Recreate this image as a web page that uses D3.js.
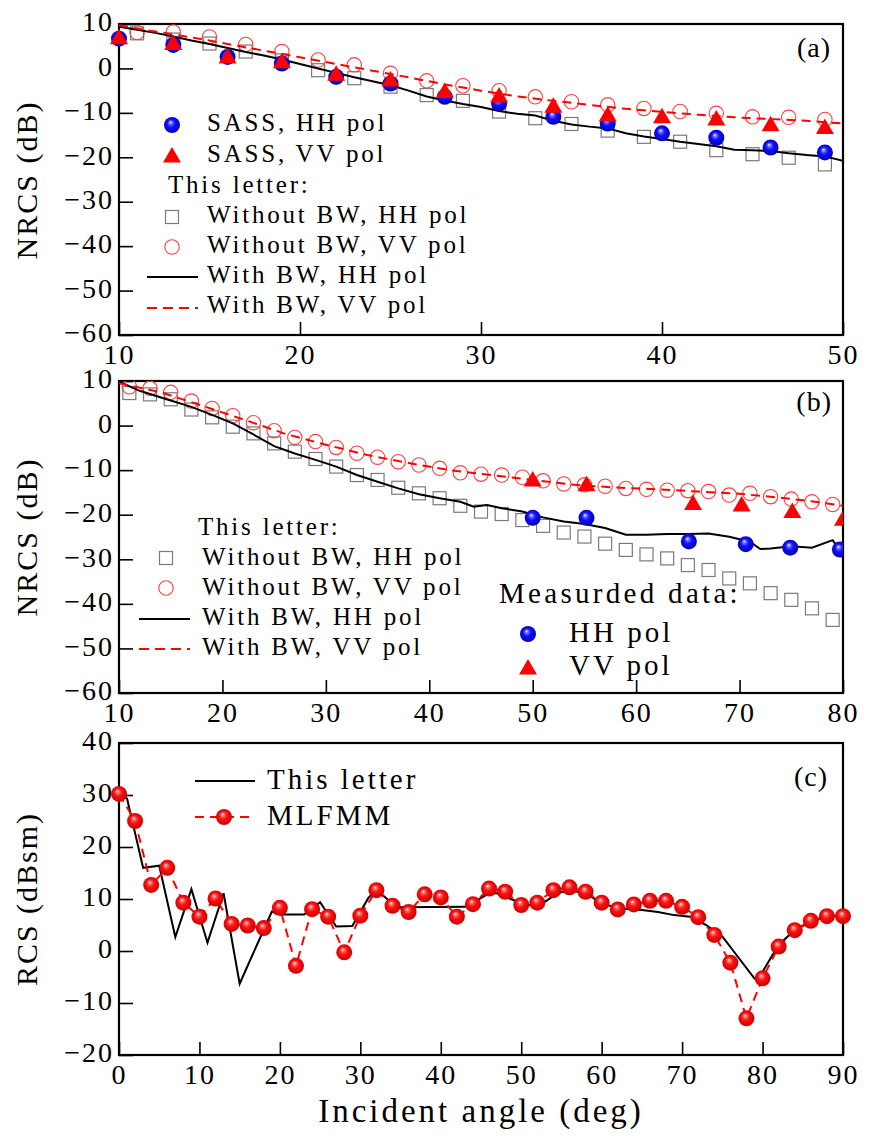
<!DOCTYPE html>
<html><head><meta charset="utf-8">
<script src="https://cdn.jsdelivr.net/npm/d3@7"></script>
<style>
body{margin:0;background:#fff}
</style></head><body>
<svg id="chart" width="871" height="1138"></svg>
<script>
// ---------- Panel (a) data ----------
const aSassX  = [10,13,16,19,22,25,28,31,34,37,40,43,46,49];
const aSassHH = [6.7,5.3,2.6,1.1,-1.9,-3.4,-6.4,-7.9,-10.9,-12.4,-14.6,-15.6,-17.8,-18.9];
const aSassVV = [6.9,5.6,2.6,1.5,-1.3,-2.6,-5.2,-6.2,-8.5,-10.5,-10.9,-11.4,-12.7,-13.3];
const aNoBwX  = [11,13,15,17,19,21,23,25,27,29,31,33,35,37,39,41,43,45,47,49];
const aNoBwHH = [7.9,6.5,5.6,3.8,1.8,-0.4,-2.2,-4.1,-6.0,-7.3,-9.7,-11.2,-12.5,-14.0,-15.4,-16.5,-18.4,-19.3,-20.1,-21.6];
const aNoBwVV = [8.1,8.2,7.1,5.4,3.8,1.9,0.8,-1.1,-2.8,-3.9,-5.0,-6.4,-7.5,-8.2,-9.0,-9.7,-10.1,-10.9,-11.0,-11.5];
const aBwHHX  = [10,11,12,13,14,15,16,17,18,19,20,21,22,23,24,25,26,27,28,29,30,31,32,33,34,35,36,37,38,39,40,41,42,43,44,45,46,47,48,49,50];
const aBwHH   = [9.4,8.7,8.0,7.2,6.3,5.5,4.6,3.7,2.9,2.0,1.0,0.0,-1.0,-2.0,-2.9,-3.8,-5.0,-6.3,-7.2,-8.0,-8.7,-9.6,-10.2,-10.6,-11.8,-12.6,-13.1,-13.5,-14.6,-15.3,-15.9,-16.5,-17.0,-17.5,-18.3,-18.4,-18.6,-19.1,-19.5,-19.8,-20.8];
const aBwVVX  = [10,12,14,16,18,20,22,24,26,28,30,32,34,36,38,40,42,44,46,48,50];
const aBwVV   = [9.7,8.3,7.0,5.5,4.0,2.5,1.0,-0.5,-2.0,-3.6,-5.0,-6.3,-7.3,-8.2,-9.1,-9.8,-10.4,-11.0,-11.4,-11.8,-12.4];

// ---------- Panel (b) data ----------
const bNoBwX  = [11,13,15,17,19,21,23,25,27,29,31,33,35,37,39,41,43,45,47,49,51,53,55,57,59,61,63,65,67,69,71,73,75,77,79];
const bNoBwHH = [7.3,7.0,5.9,3.6,1.85,-0.25,-1.75,-4.0,-5.85,-7.5,-9.2,-11.1,-12.2,-13.95,-15.2,-16.3,-18.0,-19.3,-19.85,-21.2,-22.5,-24.0,-24.9,-26.5,-27.9,-28.9,-29.8,-31.3,-32.4,-34.3,-35.4,-37.6,-39.1,-41.0,-43.6];
const bNoBwVV = [8.7,8.35,7.45,5.5,3.85,2.2,0.65,-1.15,-2.65,-3.6,-4.9,-6.2,-7.1,-8.1,-8.85,-9.6,-10.6,-10.9,-11.1,-11.6,-12.4,-13.1,-13.3,-13.6,-14.1,-14.3,-14.5,-14.6,-14.8,-15.6,-15.2,-15.95,-16.5,-17.1,-17.7];
const bBwHHX  = [10,12,14.6,17,19,21,23,25,27,29,31,33,35,37,39,41,43,44.3,45.6,47,49,51,53,55,57,59,61,63,65,67,69,71,72,73,75,77,79,79.4,80];
const bBwHH   = [9.85,7.8,5.9,4.2,2.4,0.5,-2.0,-4.6,-6.25,-7.7,-9.2,-11.1,-12.6,-14.1,-15.4,-16.3,-17.1,-18.2,-17.8,-18.55,-19.3,-20.6,-21.5,-22.1,-23.0,-24.5,-24.5,-24.3,-24.3,-24.2,-24.95,-26.05,-27.7,-27.6,-27.1,-27.4,-25.7,-27.0,-27.5];
const bBwVVX  = [10,14,18,22,26,30,34,38,42,46,50,54,58,62,66,70,74,78,80];
const bBwVV   = [9.5,7.5,4.5,1.4,-1.8,-4.3,-6.6,-8.4,-10.0,-11.1,-12.2,-13.3,-13.9,-14.3,-14.8,-15.3,-16.2,-17.3,-18.0];
const bMeasHHX = [50,55.2,65.1,70.6,74.9,79.7];
const bMeasHH  = [-20.7,-20.7,-26.0,-26.6,-27.4,-27.8];
const bMeasVVX = [50,55.2,65.5,70.2,75.1,80];
const bMeasVV  = [-12.2,-13.3,-17.5,-17.8,-19.3,-21.0];

// ---------- Panel (c) data ----------
const cMlfmmX = [0,2,4,6,8,10,12,14,16,18,20,22,24,26,28,30,32,34,36,38,40,42,44,46,48,50,52,54,56,58,60,62,64,66,68,70,72,74,76,78,80,82,84,86,88,90];
const cMlfmm  = [30.2,25.0,12.7,16.0,9.3,6.6,10.1,5.2,4.9,4.4,8.3,-2.85,8.05,6.6,-0.25,6.8,11.7,8.7,7.5,10.9,10.3,6.6,9.0,12.0,11.4,8.85,9.3,11.7,12.25,11.4,9.3,8.0,8.95,9.65,9.65,8.5,6.5,3.1,-2.25,-12.95,-5.25,0.85,4.0,5.8,6.7,6.7];
const cLetterX = [0,1,3,5,7,9,11,13,15,19,20,23,25,27,29,31,32,34,35,43,44,46,47,49,51,53,54.5,56,58,60,62,65,67,69,71,73,75,79,80,82,84,86,88,90];
const cLetter  = [30.5,29.3,16.0,16.4,2.7,11.9,1.6,11.1,-6.3,7.6,7.0,7.0,9.4,4.7,4.8,10.2,11.8,9.1,8.4,8.5,9.3,11.1,11.1,9.8,8.8,9.5,11.1,11.7,11.1,9.2,8.2,7.9,7.5,6.9,6.6,5.0,2.8,-5.3,-4.0,1.2,4.0,5.6,6.6,6.9];

// ---------- Tick values ----------
const nrcsTicks = [10,0,-10,-20,-30,-40,-50,-60];
const aXTicks = [10,20,30,40,50];
const bXTicks = [10,20,30,40,50,60,70,80];
const cXTicks = [0,10,20,30,40,50,60,70,80,90];
const cYTicks = [40,30,20,10,0,-10,-20];

const FONT = "Liberation Serif";
const svg = d3.select("#chart");
const defs = svg.append("defs");
function grad(id, base, dark){
  const g = defs.append("radialGradient").attr("id", id)
    .attr("cx","50%").attr("cy","50%").attr("r","55%").attr("fx","40%").attr("fy","32%");
  g.append("stop").attr("offset","0%").attr("stop-color","#ffffff");
  g.append("stop").attr("offset","18%").attr("stop-color",d3.interpolateRgb("#ffffff",base)(0.6));
  g.append("stop").attr("offset","45%").attr("stop-color",base);
  g.append("stop").attr("offset","100%").attr("stop-color",dark);
}
grad("gBlue","#1010ff","#0000a8");
grad("gRed","#ff1010","#c00000");

const LEFT = 119, RIGHT = 843;
const fmt = d3.format("d");

function panel(y0, y1, xDom, yDom, xTicks, yTicks){
  const x = d3.scaleLinear().domain(xDom).range([LEFT, RIGHT]);
  const y = d3.scaleLinear().domain(yDom).range([y1, y0]);
  const g = svg.append("g");
  const xMinor = d3.range(xDom[0], xDom[1] + 0.001, 2).filter(v => !xTicks.includes(v));
  const yMinor = d3.range(yDom[0], yDom[1] + 0.001, 2).filter(v => !yTicks.includes(v));
  const ax = g.append("g").attr("transform", `translate(0,${y1})`);
  ax.call(d3.axisBottom(x).tickValues(xMinor).tickSize(-7).tickSizeOuter(0).tickFormat(""));
  ax.call(d3.axisBottom(x).tickValues(xTicks).tickSize(-13).tickSizeOuter(0).tickPadding(9).tickFormat(fmt));
  const ay = g.append("g").attr("transform", `translate(${LEFT},0)`);
  ay.call(d3.axisLeft(y).tickValues(yMinor).tickSize(-7).tickSizeOuter(0).tickFormat(""));
  ay.call(d3.axisLeft(y).tickValues(yTicks).tickSize(-14).tickSizeOuter(0).tickPadding(5).tickFormat(fmt));
  ay.selectAll(".tick text").attr("dy","0.24em");
  g.selectAll("g").attr("font-family", FONT);
  g.selectAll(".tick line").attr("stroke","#000").attr("stroke-width",1.6);
  g.selectAll(".domain").remove();
  g.selectAll(".tick text").attr("font-size",28).attr("font-family",FONT).attr("letter-spacing","2px").attr("fill","#000");
  g.append("rect").attr("x",LEFT).attr("y",y0).attr("width",RIGHT-LEFT).attr("height",y1-y0)
    .attr("fill","none").attr("stroke","#000").attr("stroke-width",2.2);
  const clipId = "clip" + y0;
  defs.append("clipPath").attr("id", clipId).append("rect")
    .attr("x",LEFT).attr("y",y0).attr("width",RIGHT-LEFT).attr("height",y1-y0);
  const plot = svg.append("g").attr("clip-path",`url(#${clipId})`);
  return {x, y, g, plot};
}

function sphere(g, cx, cy, r, id){
  g.append("circle").attr("cx",cx).attr("cy",cy).attr("r",r).attr("fill",`url(#${id})`);
}
function tri(g, cx, cy){
  g.append("path").attr("d",`M${cx},${cy-9}L${cx+9},${cy+6.5}L${cx-9},${cy+6.5}Z`).attr("fill","#ff0000");
}
function sq(g, cx, cy){
  g.append("rect").attr("x",cx-6.5).attr("y",cy-6.5).attr("width",13).attr("height",13)
    .attr("fill","none").attr("stroke","#7a7a7a").attr("stroke-width",1.2);
}
function circ(g, cx, cy){
  g.append("circle").attr("cx",cx).attr("cy",cy).attr("r",7.2)
    .attr("fill","none").attr("stroke","#ff4040").attr("stroke-width",1.1);
}
function line(g, x, y, xs, ys, dashed){
  const l = d3.line().x((d,i)=>x(xs[i])).y((d,i)=>y(ys[i]));
  g.append("path").attr("d", l(ys)).attr("fill","none")
    .attr("stroke", dashed ? "#ff0000" : "#000").attr("stroke-width", 2)
    .attr("stroke-dasharray", dashed ? "9,6" : null);
}
function txt(x, y, s, size, anchor, ls){
  return svg.append("text").attr("x",x).attr("y",y).attr("font-size",size).attr("font-family",FONT)
    .attr("text-anchor",anchor||"start").attr("letter-spacing",(ls==null?2.8:ls)+"px").text(s);
}

// ================= Panel (a) =================
const A = panel(24, 335, [10,50], [-60,10], aXTicks, nrcsTicks);
aNoBwX.forEach((v,i)=>sq(A.plot, A.x(v), A.y(aNoBwHH[i])));
aNoBwX.forEach((v,i)=>circ(A.plot, A.x(v), A.y(aNoBwVV[i])));
line(A.plot, A.x, A.y, aBwHHX, aBwHH, false);
line(A.plot, A.x, A.y, aBwVVX, aBwVV, true);
aSassX.forEach((v,i)=>sphere(svg, A.x(v), A.y(aSassHH[i]), 8, "gBlue"));
aSassX.forEach((v,i)=>tri(svg, A.x(v), A.y(aSassVV[i])));
// legend (a)
sphere(svg,172,125,8,"gBlue"); txt(207,131,"SASS, HH pol",25);
tri(svg,172,156); txt(207,162,"SASS, VV pol",25);
txt(168,193,"This letter:",25);
sq(svg,172,217); txt(207,223,"Without BW, HH pol",25);
circ(svg,172,247); txt(207,253,"Without BW, VV pol",25);
svg.append("line").attr("x1",147).attr("x2",198).attr("y1",277).attr("y2",277).attr("stroke","#000").attr("stroke-width",2);
txt(207,283,"With BW, HH pol",25);
svg.append("line").attr("x1",147).attr("x2",198).attr("y1",308).attr("y2",308).attr("stroke","#f00").attr("stroke-width",2).attr("stroke-dasharray","10,6");
txt(207,313,"With BW, VV pol",25);
txt(831,57,"(a)",28,"end",1);

// ================= Panel (b) =================
const B = panel(381, 693, [10,80], [-60,10], bXTicks, nrcsTicks);
bNoBwX.forEach((v,i)=>sq(B.plot, B.x(v), B.y(bNoBwHH[i])));
bNoBwX.forEach((v,i)=>circ(B.plot, B.x(v), B.y(bNoBwVV[i])));
line(B.plot, B.x, B.y, bBwHHX, bBwHH, false);
line(B.plot, B.x, B.y, bBwVVX, bBwVV, true);
bMeasHHX.forEach((v,i)=>sphere(B.plot, B.x(v), B.y(bMeasHH[i]), 8, "gBlue"));
bMeasVVX.forEach((v,i)=>tri(B.plot, B.x(v), B.y(bMeasVV[i])));
// legend (b)
txt(198,535,"This letter:",25);
sq(svg,166,558); txt(202,565,"Without BW, HH pol",25);
circ(svg,166,588); txt(202,595,"Without BW, VV pol",25);
svg.append("line").attr("x1",139).attr("x2",190).attr("y1",619).attr("y2",619).attr("stroke","#000").attr("stroke-width",2);
txt(202,625,"With BW, HH pol",25);
svg.append("line").attr("x1",139).attr("x2",190).attr("y1",649).attr("y2",649).attr("stroke","#f00").attr("stroke-width",2).attr("stroke-dasharray","10,6");
txt(202,655,"With BW, VV pol",25);
txt(499,603,"Measurded data:",29,"start",3.3);
sphere(svg,528,634,8,"gBlue"); txt(569,642,"HH pol",29,"start",3);
tri(svg,528,668); txt(569,675,"VV pol",29,"start",3);
txt(832,411,"(b)",28,"end",1);

// ================= Panel (c) =================
const C = panel(743, 1055, [0,90], [-20,40], cXTicks, cYTicks);
line(C.plot, C.x, C.y, cLetterX, cLetter, false);
line(C.plot, C.x, C.y, cMlfmmX, cMlfmm, true);
cMlfmmX.forEach((v,i)=>sphere(svg, C.x(v), C.y(cMlfmm[i]), 8, "gRed"));
// legend (c)
svg.append("line").attr("x1",195).attr("x2",255).attr("y1",781).attr("y2",781).attr("stroke","#000").attr("stroke-width",2);
txt(267,789,"This letter",29,"start",3);
svg.append("line").attr("x1",195).attr("x2",255).attr("y1",817).attr("y2",817).attr("stroke","#f00").attr("stroke-width",2).attr("stroke-dasharray","9,6");
sphere(svg,224,817,8,"gRed");
txt(267,825,"MLFMM",29,"start",3);
txt(828,786,"(c)",28,"end",1);

// axis titles
function vtitle(cy, s){
  svg.append("text").attr("transform",`translate(37,${cy}) rotate(-90)`).attr("text-anchor","middle")
    .attr("font-family",FONT).attr("font-size",30).attr("letter-spacing","2px").text(s);
}
vtitle(180, "NRCS (dB)");
vtitle(537, "NRCS (dB)");
vtitle(899, "RCS (dBsm)");
svg.append("text").attr("x",481).attr("y",1122).attr("text-anchor","middle").attr("font-family",FONT)
  .attr("font-size",33).attr("letter-spacing","3px").text("Incident angle (deg)");
</script>
</body></html>
